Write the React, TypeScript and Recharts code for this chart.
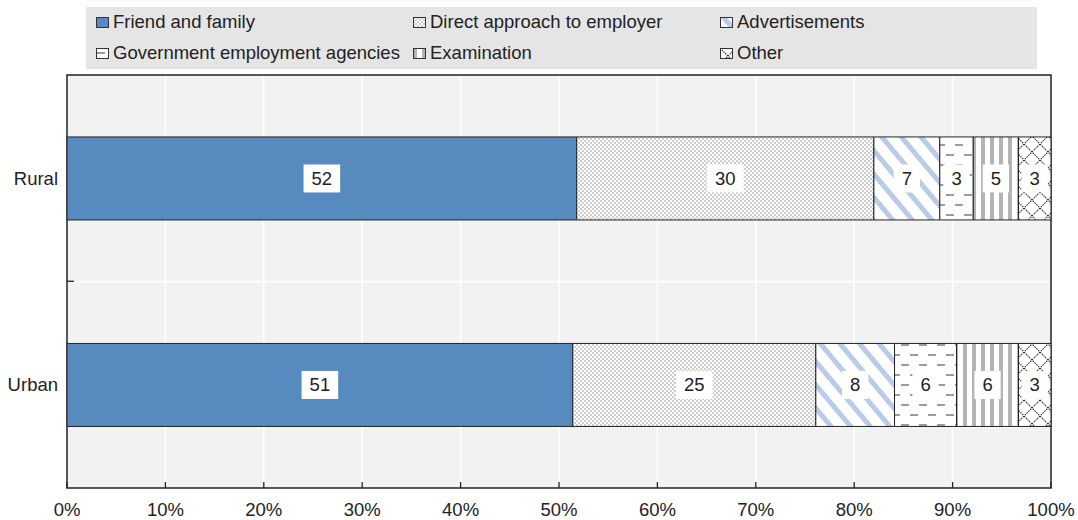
import React from 'react'
import {
  BarChart,
  Bar,
  XAxis,
  YAxis,
  CartesianGrid,
  LabelList,
  ReferenceArea,
} from 'recharts'

const categories = ['Rural', 'Urban']
const friendFamily = [51.8, 51.4]
const directApproach = [30.2, 24.7]
const advertisements = [6.7, 8.0]
const govAgencies = [3.4, 6.3]
const examination = [4.6, 6.3]
const other = [3.3, 3.3]
const xTicks = [0, 10, 20, 30, 40, 50, 60, 70, 80, 90, 100]

const series = [
  { key: 'friend', name: 'Friend and family', values: friendFamily, fill: '#578bbf' },
  { key: 'direct', name: 'Direct approach to employer', values: directApproach, fill: 'url(#pDirect)' },
  { key: 'adv', name: 'Advertisements', values: advertisements, fill: 'url(#pAdv)' },
  { key: 'gov', name: 'Government employment agencies', values: govAgencies, fill: 'url(#pGov)' },
  { key: 'exam', name: 'Examination', values: examination, fill: 'url(#pExam)' },
  { key: 'other', name: 'Other', values: other, fill: 'url(#pOther)' },
]

// legend order as in the source (3 columns, 2 rows)
const legendOrder = ['friend', 'direct', 'adv', 'gov', 'exam', 'other']

const data = categories.map((c, i) => {
  const row: Record<string, string | number> = { category: c }
  series.forEach((s) => {
    row[s.key] = s.values[i]
  })
  return row
})

const FONT = '"Liberation Sans", Arial, Helvetica, sans-serif'
const FS = 18.5

function Patterns() {
  return (
    <defs>
      <pattern id="pDirect" width="4" height="4" patternUnits="userSpaceOnUse">
        <rect width="4" height="4" fill="#ffffff" />
        <rect x="0" y="0" width="2" height="2" fill="#cdcdcd" />
        <rect x="2" y="2" width="2" height="2" fill="#cdcdcd" />
      </pattern>
      <pattern id="pAdv" width="15" height="15" patternUnits="userSpaceOnUse" patternTransform="rotate(-40)">
        <rect width="15" height="15" fill="#ffffff" />
        <rect x="0" y="0" width="5" height="15" fill="#b9cbe8" />
      </pattern>
      <pattern id="pGov" width="18" height="20" patternUnits="userSpaceOnUse">
        <rect width="18" height="20" fill="#ffffff" />
        <line x1="1" y1="5" x2="9" y2="5" stroke="#666" strokeWidth="1.3" />
        <line x1="10" y1="15" x2="18" y2="15" stroke="#666" strokeWidth="1.3" />
      </pattern>
      <pattern id="pExam" width="9" height="9" patternUnits="userSpaceOnUse">
        <rect width="9" height="9" fill="#ffffff" />
        <rect x="0" y="0" width="4" height="9" fill="#b3b3b3" />
      </pattern>
      <pattern id="pOther" width="16" height="16" patternUnits="userSpaceOnUse">
        <rect width="16" height="16" fill="#ffffff" />
        <line x1="0" y1="0" x2="16" y2="16" stroke="#222" strokeWidth="1.1" strokeDasharray="1.5 1" />
        <line x1="16" y1="0" x2="0" y2="16" stroke="#222" strokeWidth="1.1" strokeDasharray="1.5 1" />
      </pattern>
    </defs>
  )
}

const renderLabel = (props: any) => {
  const { x, y, width, height, value } = props
  const txt = String(Math.round(Number(value)))
  const w = txt.length * 10.3 + 16
  const h = 28
  const cx = Number(x) + Number(width) / 2
  const cy = Number(y) + Number(height) / 2
  return (
    <g>
      <rect x={cx - w / 2} y={cy - h / 2} width={w} height={h} fill="#ffffff" />
      <text
        x={cx}
        y={cy}
        textAnchor="middle"
        dominantBaseline="central"
        fontSize={FS}
        fontFamily={FONT}
        fill="#222"
      >
        {txt}
      </text>
    </g>
  )
}

const renderXTick = (props: any) => {
  const { x, y, payload } = props
  return (
    <g>
      <line x1={x} y1={y} x2={x} y2={y - 6} stroke="#222" strokeWidth={1.3} />
      <text x={x} y={y + 21} textAnchor="middle" dominantBaseline="central" fontSize={FS} fontFamily={FONT} fill="#222">
        {payload.value + '%'}
      </text>
    </g>
  )
}

const renderYTick = (props: any) => {
  const { x, y, payload, index } = props
  return (
    <g>
      <text x={x - 1} y={y} textAnchor="end" dominantBaseline="central" fontSize={FS} fontFamily={FONT} fill="#222">
        {payload.value}
      </text>
      {index === 0 ? (
        <line x1={67} y1={y + 103} x2={74} y2={y + 103} stroke="#222" strokeWidth={1.3} />
      ) : null}
    </g>
  )
}

function Swatch({ fill }: { fill: string }) {
  return (
    <svg width={13} height={11} style={{ display: 'block' }}>
      <rect x={0.5} y={0.5} width={12} height={10} fill={fill} stroke="#333" strokeWidth={1} />
    </svg>
  )
}

function LegendBox() {
  const colX = [96, 413, 720]
  const rowY = [22, 53]
  return (
    <div
      style={{
        position: 'absolute',
        left: 86,
        top: 7,
        width: 951,
        height: 62,
        background: '#e5e5e5',
      }}
    >
      {legendOrder.map((k, i) => {
        const s = series.find((q) => q.key === k)!
        const col = i % 3
        const row = Math.floor(i / 3)
        return (
          <div
            key={k}
            style={{
              position: 'absolute',
              left: colX[col] - 86,
              top: rowY[row] - 7 - 12,
              height: 24,
              display: 'flex',
              alignItems: 'center',
              gap: 4,
              fontFamily: FONT,
              fontSize: FS,
              color: '#222',
              whiteSpace: 'nowrap',
            }}
          >
            <Swatch fill={s.fill} />
            <span>{s.name}</span>
          </div>
        )
      })}
    </div>
  )
}

export default function App() {
  return (
    <div style={{ position: 'absolute', left: 0, top: 0, width: 1078, height: 520, background: '#fff' }}>
      <BarChart
        width={1078}
        height={520}
        data={data}
        layout="vertical"
        margin={{ top: 75, right: 27, bottom: 0, left: 0 }}
        barCategoryGap="30%"
      >
        <Patterns />
        <CartesianGrid
          fill="#f2f2f2"
          stroke="#ffffff"
          strokeWidth={1.5}
          horizontalCoordinatesGenerator={({ offset }: any) => [offset.top + offset.height / 2]}
        />
        <XAxis
          type="number"
          domain={[0, 100]}
          ticks={xTicks}
          tickLine={false}
          tickSize={0}
          tickMargin={0}
          axisLine={false}
          height={32}
          tick={renderXTick}
          interval={0}
        />
        <YAxis
          type="category"
          dataKey="category"
          width={67}
          tickLine={false}
          axisLine={false}
          tick={renderYTick}
          interval={0}
        />
        {series.map((s) => (
          <Bar
            key={s.key}
            dataKey={s.key}
            name={s.name}
            stackId="a"
            fill={s.fill}
            stroke="#222"
            strokeWidth={1}
            isAnimationActive={false}
          >
            <LabelList dataKey={s.key} content={renderLabel} />
          </Bar>
        ))}
        <ReferenceArea x1={0} x2={100} fill="none" stroke="#222" strokeWidth={1.5} ifOverflow="extendDomain" />
      </BarChart>
      <LegendBox />
    </div>
  )
}
